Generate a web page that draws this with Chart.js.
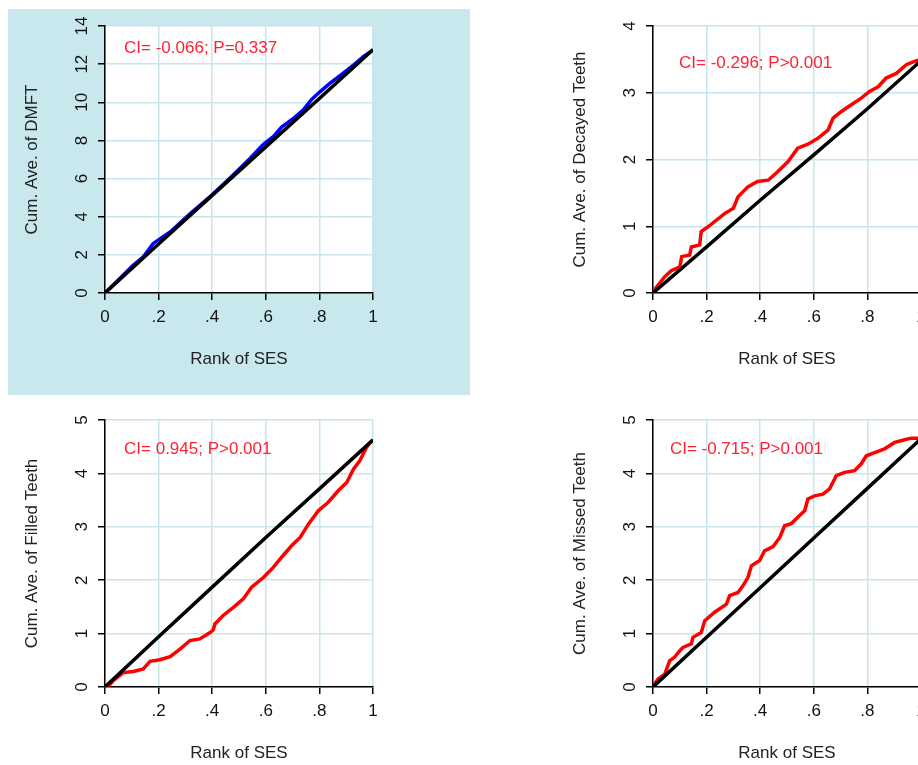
<!DOCTYPE html>
<html>
<head>
<meta charset="utf-8">
<script src="https://cdn.jsdelivr.net/npm/chart.js@4.4.1/dist/chart.umd.min.js"></script>
<style>
  html, body { margin: 0; padding: 0; background: #fff; overflow: hidden; }
  body { width: 918px; height: 765px; position: relative; }
  canvas { position: absolute; }
  #dmft { background: #c9e8ee; }
</style>
</head>
<body>
<canvas id="dmft"    width="462" height="386" style="left:8px;top:9px"></canvas>
<canvas id="decayed" width="462" height="386" style="left:556px;top:9px"></canvas>
<canvas id="filled"  width="462" height="386" style="left:8px;top:403px"></canvas>
<canvas id="missed"  width="462" height="386" style="left:556px;top:403px"></canvas>
<script>
// Concentration curves (cum. average vs rank of SES).

const xTicks      = [0, 0.2, 0.4, 0.6, 0.8, 1];
const xTickLabels = ["0", ".2", ".4", ".6", ".8", "1"];
const dmftTicks   = [0, 2, 4, 6, 8, 10, 12, 14];
const decayTicks  = [0, 1, 2, 3, 4];
const fiveTicks   = [0, 1, 2, 3, 4, 5];

// DMFT
const dmftRank = [0, .056, .106, .143, .18, .243, .317, .392, .479, .541, .591, .628, .659, .703, .74, .771, .802, .84, .877, .927, .964, 1];
const dmftCum  = [0, .77, 1.47, 1.9, 2.6, 3.2, 4.15, 5.05, 6.2, 7.05, 7.8, 8.2, 8.7, 9.15, 9.6, 10.15, 10.55, 11.0, 11.4, 11.95, 12.4, 12.75];
const dmftEqRank = [0, .2, .4, .6, .8, 1];
const dmftEq     = [0, 2.57, 5.12, 7.66, 10.2, 12.76];

// Decayed teeth
const decRank = [0, .044, .068, .1, .107, .137, .143, .174, .18, .205, .236, .267, .3, .317, .354, .39, .43, .466, .504, .54, .578, .616, .653, .672, .703, .74, .777, .808, .84, .87, .908, .945, .976, 1];
const decCum  = [.02, .245, .335, .39, .545, .57, .69, .72, .92, .99, 1.09, 1.19, 1.27, 1.44, 1.59, 1.67, 1.69, 1.82, 1.97, 2.17, 2.23, 2.32, 2.44, 2.62, 2.72, 2.82, 2.92, 3.02, 3.09, 3.22, 3.29, 3.42, 3.47, 3.5];
const decEqRank = [0, .2, .4, .6, .8, 1];
const decEq     = [0, .69, 1.39, 2.07, 2.76, 3.48];

// Filled teeth
const filRank = [0, .01, .031, .068, .106, .143, .168, .205, .243, .28, .317, .354, .392, .404, .41, .441, .479, .516, .547, .591, .628, .659, .697, .728, .759, .796, .833, .871, .902, .927, .951, .976, .995];
const filCum  = [0, 0, .12, .27, .29, .34, .48, .51, .57, .71, .87, .9, 1.02, 1.07, 1.18, 1.34, 1.49, 1.65, 1.87, 2.05, 2.24, 2.43, 2.65, 2.8, 3.05, 3.3, 3.46, 3.68, 3.83, 4.08, 4.24, 4.49, 4.61];
const filEqRank = [0, .2, .4, .6, .8, 1];
const filEq     = [0, .94, 1.87, 2.8, 3.71, 4.63];

// Missed teeth
const misRank = [0, .019, .044, .062, .081, .1, .112, .143, .149, .18, .193, .23, .274, .286, .317, .336, .354, .367, .398, .416, .448, .473, .491, .516, .547, .566, .578, .603, .634, .659, .684, .715, .752, .777, .796, .827, .864, .902, .939, .964, .989, 1];
const misCum  = [.02, .15, .24, .49, .56, .68, .74, .81, .93, 1.02, 1.24, 1.4, 1.55, 1.71, 1.77, 1.9, 2.05, 2.27, 2.37, 2.55, 2.63, 2.8, 3.02, 3.06, 3.21, 3.3, 3.52, 3.58, 3.61, 3.71, 3.96, 4.02, 4.05, 4.18, 4.33, 4.39, 4.46, 4.58, 4.63, 4.66, 4.66, 4.65];
const misEqRank = [0, .2, .4, .6, .8, 1];
const misEq     = [0, .93, 1.86, 2.79, 3.72, 4.65];

const FONT = "Arial, 'Liberation Sans', sans-serif";

const whiteArea = {
  id: "whiteArea",
  beforeDraw(chart) {
    const { ctx, chartArea: a } = chart;
    ctx.save();
    ctx.fillStyle = "#fff";
    ctx.fillRect(a.left, a.top, a.right - a.left, a.bottom - a.top);
    ctx.restore();
  },
};

const noteText = {
  id: "noteText",
  afterDatasetsDraw(chart, args, opts) {
    const { ctx, scales } = chart;
    ctx.save();
    ctx.font = "17px " + FONT;
    ctx.fillStyle = "#ff2233";
    ctx.textAlign = "left";
    ctx.textBaseline = "middle";
    ctx.fillText(opts.text, scales.x.getPixelForValue(opts.at[0]), scales.y.getPixelForValue(opts.at[1]));
    ctx.restore();
  },
};

const pts = (xs, ys) => xs.map((x, i) => ({ x, y: ys[i] }));

function makePanel(id, p) {
  const axisGrid = { color: "#c6e5ec", lineWidth: 1.5, tickColor: "#000", tickLength: 7, tickWidth: 1.5 };
  const axisBorder = { color: "#000", width: 1.5 };
  return new Chart(document.getElementById(id), {
    type: "line",
    data: {
      datasets: [
        { data: pts(p.eqRank, p.eq),   borderColor: "#000",  borderWidth: 3.5, pointRadius: 0, tension: 0 },
        { data: pts(p.rank, p.cum),    borderColor: p.color, borderWidth: 3.5, pointRadius: 0, tension: 0 },
      ],
    },
    options: {
      responsive: false,
      animation: false,
      events: [],
      layout: { padding: { left: 0, top: 17, right: 97, bottom: 0 } },
      plugins: {
        legend:  { display: false },
        tooltip: { enabled: false },
        noteText: { text: p.note, at: p.noteAt },
      },
      scales: {
        x: {
          type: "linear", min: 0, max: 1,
          afterBuildTicks: s => { s.ticks = xTicks.map(v => ({ value: v })); },
          afterFit: s => { s.height = 102; s.paddingLeft = 0; s.paddingRight = 0; },
          ticks: { callback: (v, i) => xTickLabels[i], padding: 7, maxRotation: 0,
                   font: { family: FONT, size: 17 }, color: "#111" },
          grid: axisGrid, border: axisBorder,
          title: { display: true, text: "Rank of SES", color: "#222",
                   font: { family: FONT, size: 17 }, padding: { top: 0, bottom: 25 } },
        },
        y: {
          type: "linear", min: 0, max: p.yMax,
          afterBuildTicks: s => { s.ticks = p.yTicks.map(v => ({ value: v })); },
          afterFit: s => { s.width = 97; s.paddingTop = 0; s.paddingBottom = 0; },
          ticks: { minRotation: 90, maxRotation: 90, crossAlign: "center", padding: p.yPad,
                   font: { family: FONT, size: 17 }, color: "#111" },
          grid: axisGrid, border: axisBorder,
          title: { display: true, text: p.title, color: "#222",
                   font: { family: FONT, size: 17 }, padding: { top: 14, bottom: 0 } },
        },
      },
    },
    plugins: [whiteArea, noteText],
  });
}

makePanel("dmft", {
  rank: dmftRank, cum: dmftCum, eqRank: dmftEqRank, eq: dmftEq, color: "#0000ff",
  yMax: 14, yTicks: dmftTicks, yPad: 6.5, title: "Cum. Ave. of DMFT",
  note: "CI= -0.066; P=0.337", noteAt: [0.071, 12.85],
});
makePanel("decayed", {
  rank: decRank, cum: decCum, eqRank: decEqRank, eq: decEq, color: "#ff0000",
  yMax: 4, yTicks: decayTicks, yPad: 11.3, title: "Cum. Ave. of Decayed Teeth",
  note: "CI= -0.296; P>0.001", noteAt: [0.097, 3.44],
});
makePanel("filled", {
  rank: filRank, cum: filCum, eqRank: filEqRank, eq: filEq, color: "#ff0000",
  yMax: 5, yTicks: fiveTicks, yPad: 11.3, title: "Cum. Ave. of Filled Teeth",
  note: "CI= 0.945; P>0.001", noteAt: [0.071, 4.46],
});
makePanel("missed", {
  rank: misRank, cum: misCum, eqRank: misEqRank, eq: misEq, color: "#ff0000",
  yMax: 5, yTicks: fiveTicks, yPad: 11.3, title: "Cum. Ave. of Missed Teeth",
  note: "CI= -0.715; P>0.001", noteAt: [0.063, 4.46],
});
</script>
</body>
</html>
